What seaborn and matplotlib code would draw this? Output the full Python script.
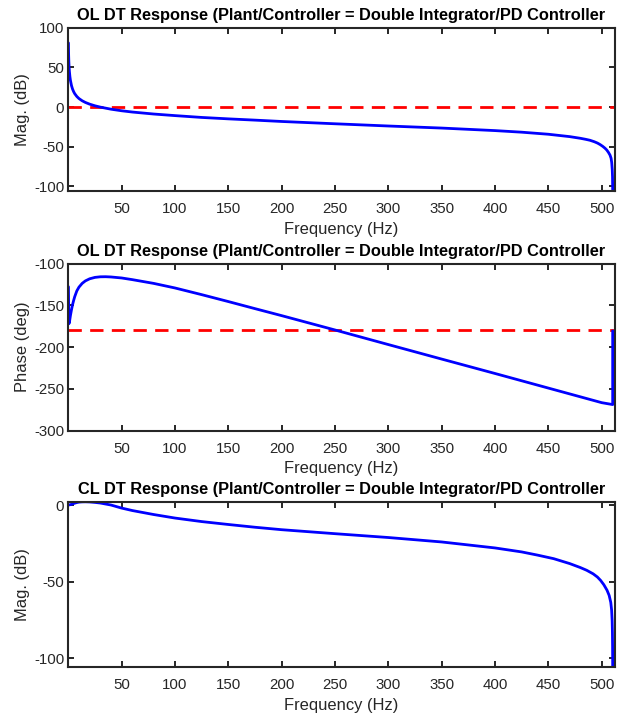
import numpy as np
import pandas as pd
import matplotlib
matplotlib.use("Agg")
import matplotlib.pyplot as plt
import seaborn as sns

# ---------------- data ----------------
ol_freq = [0.13, 0.2, 0.3, 0.5, 0.75, 1, 1.5, 2, 3, 4, 5, 6, 8, 10, 13, 16, 20, 25, 30,
           40, 50, 60, 80, 100, 125, 150, 175, 200, 250, 300, 350, 400, 425, 450, 470,
           480, 485, 489, 493, 496, 498.5, 501, 503, 504.7, 506.3, 507.8, 508.8, 509.4,
           509.9, 510.15, 510.3]
ol_mag_db = [81, 73.3, 66.3, 57.4, 50.4, 45.4, 38.5, 33.7, 27.1, 22.7, 19.5, 17.0, 13.4,
             10.8, 8.0, 5.9, 3.75, 1.66, 0.0, -2.6, -4.6, -6.2, -8.7, -10.7, -13.0,
             -14.8, -16.4, -18.1, -21.0, -23.8, -26.4, -29.6, -31.6, -34.2, -37.2,
             -39.3, -40.6, -41.8, -43.6, -45.3, -47.2, -49.5, -51.7, -54.0, -57.0,
             -60.5, -64.5, -70.0, -79.0, -88.0, -105.4]

ph_freq = [0.13, 0.5, 1, 2, 3, 4, 5, 6, 8, 10, 13, 16, 20, 25, 30, 35, 40, 50, 60, 80,
           100, 125, 150, 175, 200, 250, 300, 350, 400, 450, 500, 510.3, 510.3]
ph_deg = [-127.5, -172.0, -170.5, -162.0, -155.0, -149.0, -144.0, -139.5, -132.5,
          -128.0, -123.5, -120.5, -118.0, -116.3, -115.6, -115.5, -115.8, -117.0,
          -119.0, -123.5, -129.0, -137.0, -145.3, -153.8, -162.2, -179.4, -196.9,
          -214.3, -231.6, -249.1, -266.6, -268.9, -180.5]

cl_freq = [0.13, 1, 2, 4, 6, 8, 10, 13, 16, 20, 25, 30, 40, 50, 60, 80, 100, 125, 150,
           175, 200, 250, 300, 350, 400, 425, 440, 455, 470, 480, 486, 492, 496, 499,
           502, 505, 507, 508.5, 509.3, 509.8, 510.05, 510.2, 510.3]
cl_mag_db = [0.0, 0.1, 0.25, 0.7, 1.2, 1.6, 1.9, 2.05, 2.1, 2.0, 1.7, 1.3, 0.0, -2.0,
             -3.6, -6.2, -8.5, -10.8, -12.7, -14.5, -16.1, -18.7, -21.2, -24.1, -28.0,
             -30.6, -32.7, -35.0, -38.2, -40.8, -42.6, -44.9, -47.0, -49.2, -52.0,
             -55.6, -59.0, -63.5, -68.5, -75.5, -83.0, -92.0, -105.8]

ol_mag_ref = 0.0       # 0 dB line
ol_phase_ref = -180.0  # -180 deg line

x_ticks = [50, 100, 150, 200, 250, 300, 350, 400, 450, 500]
y1_ticks = [-100, -50, 0, 50, 100]
y2_ticks = [-300, -250, -200, -150, -100]
y3_ticks = [-100, -50, 0]

title_ol = "OL DT Response (Plant/Controller = Double Integrator/PD Controller"
title_cl = "CL DT Response (Plant/Controller = Double Integrator/PD Controller"

# ---------------- style ----------------
sns.set_style("white")
plt.rcParams["font.family"] = ["Liberation Sans", "DejaVu Sans"]
plt.rcParams["axes.unicode_minus"] = False
dark = "#262626"

W, H = 623, 715
fig = plt.figure(figsize=(W / 100, H / 100), dpi=100)

def axes_px(left, top, right, bottom):
    return fig.add_axes([left / W, 1 - bottom / H, (right - left) / W, (bottom - top) / H])

ax1 = axes_px(68.3, 27.8, 614.5, 191.2)
ax2 = axes_px(68.3, 263.8, 614.5, 430.5)
ax3 = axes_px(68.3, 501.8, 614.5, 667.2)

blue = "#0000FF"
red = "#FF0000"

sns.lineplot(x=ol_freq, y=ol_mag_db, ax=ax1, color=blue, linewidth=2.0,
             estimator=None, sort=False, zorder=3)
ax1.axhline(ol_mag_ref, color=red, linewidth=2.0, dashes=(4.8, 3.0), zorder=2)

sns.lineplot(x=ph_freq, y=ph_deg, ax=ax2, color=blue, linewidth=2.0,
             estimator=None, sort=False, zorder=3)
ax2.axhline(ol_phase_ref, color=red, linewidth=2.0, dashes=(4.8, 3.0), zorder=2)

sns.lineplot(x=cl_freq, y=cl_mag_db, ax=ax3, color=blue, linewidth=2.0,
             estimator=None, sort=False, zorder=3)

configs = [
    (ax1, (-106, 100), y1_ticks, "Mag. (dB)", title_ol),
    (ax2, (-300, -100), y2_ticks, "Phase (deg)", title_ol),
    (ax3, (-105.8, 2.1), y3_ticks, "Mag. (dB)", title_cl),
]
for ax, ylim, yt, ylab, ttl in configs:
    ax.set_xlim(0, 512)
    ax.set_ylim(*ylim)
    ax.set_xticks(x_ticks)
    ax.set_yticks(yt)
    ax.set_xlabel("Frequency (Hz)", fontsize=11.9, color=dark, labelpad=4)
    ax.set_ylabel(ylab, fontsize=11.9, color=dark, labelpad=3)
    ax.set_title(ttl, fontsize=11.8, fontweight="bold", color="black", pad=5.5)
    ax.tick_params(axis="both", which="both", direction="in", length=4, width=1.4,
                   color=dark, labelcolor=dark, labelsize=10.8,
                   top=True, right=True, bottom=True, left=True)
    ax.tick_params(axis="x", pad=8)
    ax.tick_params(axis="y", pad=3)
    for sp in ax.spines.values():
        sp.set_visible(True)
        sp.set_color(dark)
        sp.set_linewidth(1.5)
        sp.set_zorder(4)
    ax.grid(False)

fig.savefig("out.png", dpi=100, facecolor="white")
